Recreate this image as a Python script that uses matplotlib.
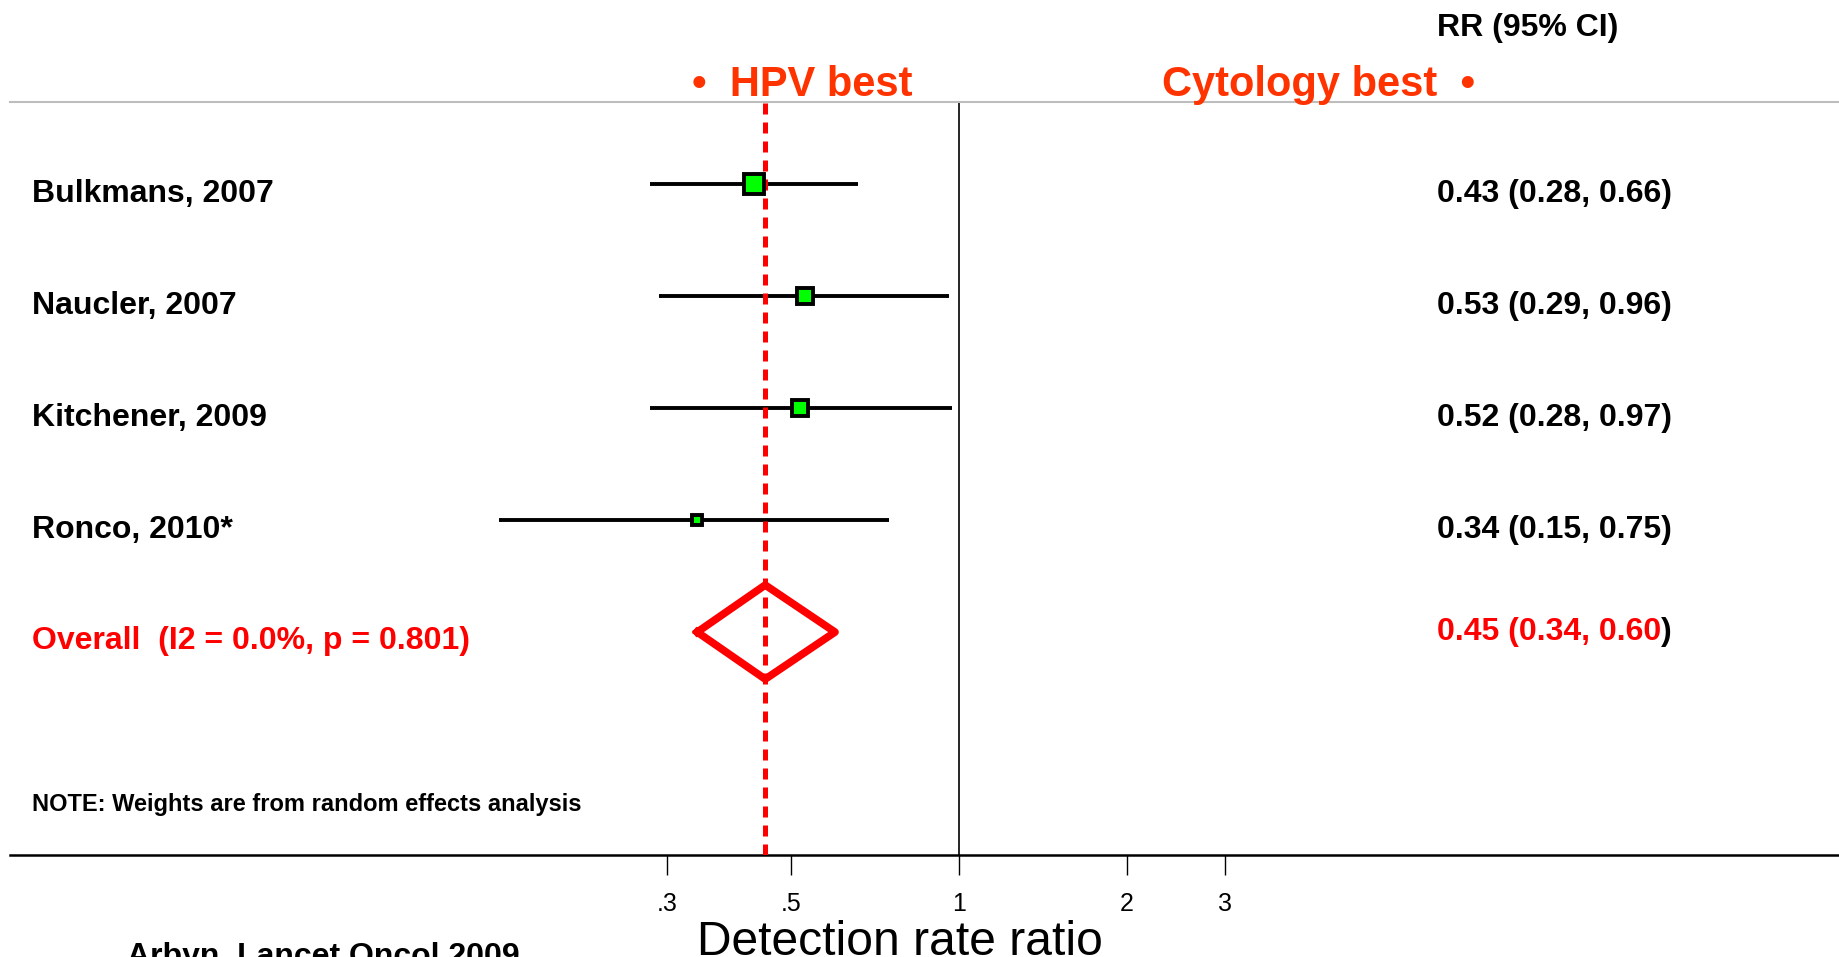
import numpy as np
import matplotlib
matplotlib.use('Agg')
import matplotlib.pyplot as plt
import matplotlib.transforms as mtransforms
from matplotlib.ticker import NullLocator

plt.rcParams['font.family'] = ['Liberation Sans', 'DejaVu Sans']

# study data
studies = ['Bulkmans, 2007', 'Naucler, 2007', 'Kitchener, 2009', 'Ronco, 2010*']
rr = [0.43, 0.53, 0.52, 0.34]
ci_low = [0.28, 0.29, 0.28, 0.15]
ci_high = [0.66, 0.96, 0.97, 0.75]
weights = [39.9, 23.4, 25.4, 11.3]

overall_label = 'Overall  (I2 = 0.0%, p = 0.801)'
overall_rr = 0.45
overall_low = 0.34
overall_high = 0.60

tick_values = [0.3, 0.5, 1, 2, 3]
tick_labels = ['.3', '.5', '1', '2', '3']

W, H = 1840, 957
fig = plt.figure(figsize=(W / 100, H / 100), dpi=100)
ax = fig.add_axes([10 / W, 1 - 855 / H, 1 - 10 / W, (855 - 102) / H])
ax.set_xscale('log')
ax.set_xlim(0.02, 37.8)
ax.set_ylim(5.99, -0.732)

rows = np.arange(len(studies))

# reference lines
ax.axvline(1, color='black', lw=1.2, zorder=1)
ax.axvline(overall_rr, color='#ff0000', lw=3.6, dashes=(2.2, 1.6), zorder=3)

# confidence intervals and weighted boxes
ax.hlines(rows, ci_low, ci_high, color='black', lw=2.8, zorder=2)
for y, r, w in zip(rows, rr, weights):
    ax.plot(r, y, marker='s', ms=2.35 * np.sqrt(w), mfc='#00ff00',
            mec='black', mew=2.8, zorder=4)

# overall diamond
yo = len(studies)
h = 0.42
ax.plot([overall_low, overall_rr, overall_high, overall_rr, overall_low],
        [yo, yo - h, yo, yo + h, yo], color='#ff0000', lw=5.5,
        solid_joinstyle='round', zorder=4)

# axes styling
for s in ['left', 'right']:
    ax.spines[s].set_visible(False)
ax.spines['top'].set_color('#bdbdbd')
ax.spines['top'].set_linewidth(1.5)
ax.spines['bottom'].set_linewidth(1.8)
ax.set_xticks(tick_values, tick_labels)
ax.xaxis.set_minor_locator(NullLocator())
ax.tick_params(axis='x', length=14.4, width=1, pad=12, labelsize=18)
ax.set_yticks([])

tr = mtransforms.blended_transform_factory(fig.transFigure, ax.transData)
bold = dict(fontsize=23, fontweight='bold', va='center', ha='left',
            transform=tr, clip_on=False)

for y, name, r, lo, hi in zip(rows, studies, rr, ci_low, ci_high):
    ax.text(32 / W, y + 0.09, name, **bold)
    ax.text(1437 / W, y + 0.09, f'{r:.2f} ({lo:.2f}, {hi:.2f})', **bold)

ax.text(32 / W, yo + 0.08, overall_label, color='#ff0000', **bold)
red_rr = ax.text(1437 / W, yo + 0.0,
                 f'{overall_rr:.2f} ({overall_low:.2f}, {overall_high:.2f}',
                 color='#ff0000', **bold)
ax.annotate(')', xy=(1, 0.5), xycoords=red_rr, va='center', ha='left',
            fontsize=23, fontweight='bold', color='black')

ax.text(1437 / W, -1.39, 'RR (95% CI)', **bold)
ax.text(692 / W, -0.88, '\u2022  HPV best', color='#ff3300', fontsize=30,
        fontweight='bold', va='center', ha='left', transform=tr, clip_on=False)
ax.text(1162 / W, -0.88, 'Cytology best  \u2022', color='#ff3300', fontsize=30,
        fontweight='bold', va='center', ha='left', transform=tr, clip_on=False)

ax.text(32 / W, 5.54, 'NOTE: Weights are from random effects analysis',
        fontsize=17, fontweight='bold', va='center', ha='left',
        transform=tr, clip_on=False)
ax.text(900 / W, 6.884, 'Detection rate ratio', fontsize=34.6,
        va='baseline', ha='center', transform=tr, clip_on=False)
ax.text(127 / W, 6.973, 'Arbyn, Lancet Oncol 2009', fontsize=23,
        fontweight='bold', va='baseline', ha='left', transform=tr, clip_on=False)

fig.savefig('out.png', dpi=100)
